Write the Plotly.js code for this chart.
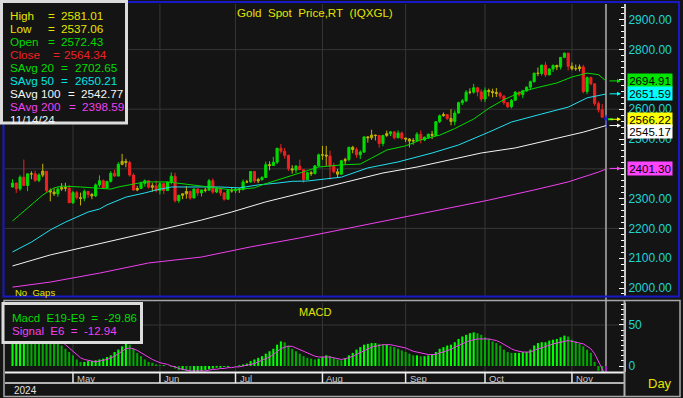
<!DOCTYPE html>
<html><head><meta charset="utf-8">
<script src="https://cdn.plot.ly/plotly-3.0.1.min.js"></script>
<style>html,body{margin:0;padding:0;background:#141414;overflow:hidden}#chart{width:683px;height:398px}</style>
</head><body><div id="chart"></div>
<script>
// ---------------- data (daily bars, Apr 9 2024 .. Nov 14 2024) ----------------
const open=[2339,2352,2333,2372,2344,2383,2383,2361,2379,2392,2327,2322,2316,2332,2337,2335,2286,2320,2303,2301,2324,2314,2309,2346,2360,2336,2358,2385,2376,2415,2425,2421,2379,2329,2334,2351,2360,2338,2343,2327,2350,2327,2355,2375,2293,2311,2316,2324,2302,2332,2319,2329,2328,2360,2322,2334,2319,2298,2327,2326,2332,2330,2356,2356,2391,2359,2364,2371,2414,2411,2422,2469,2459,2445,2400,2396,2409,2397,2364,2387,2384,2410,2447,2446,2443,2409,2390,2382,2427,2431,2472,2465,2447,2456,2507,2504,2513,2512,2485,2512,2518,2524,2504,2520,2503,2500,2493,2495,2516,2497,2506,2516,2512,2558,2578,2582,2569,2559,2587,2622,2628,2657,2657,2672,2658,2634,2663,2659,2656,2653,2644,2622,2608,2630,2657,2649,2662,2674,2692,2721,2720,2748,2715,2735,2747,2742,2774,2788,2744,2736,2736,2742,2659,2706,2685,2619,2598,2572.43];
const high=[2365,2354,2378,2431,2384,2392,2394,2385,2417,2392,2334,2335,2338,2352,2353,2346,2326,2326,2320,2331,2326,2319,2351,2378,2364,2359,2392,2397,2422,2450,2434,2427,2385,2343,2357,2364,2361,2352,2360,2355,2354,2357,2388,2387,2313,2317,2342,2326,2335,2335,2330,2336,2366,2368,2338,2338,2322,2332,2339,2337,2336,2364,2363,2392,2393,2370,2375,2424,2425,2440,2470,2483,2470,2448,2412,2412,2431,2399,2390,2393,2412,2451,2477,2477,2461,2420,2400,2430,2437,2474,2477,2472,2462,2509,2510,2531,2514,2512,2514,2528,2527,2526,2529,2525,2504,2503,2503,2523,2529,2508,2518,2527,2560,2582,2589,2583,2600,2596,2625,2634,2664,2670,2685,2675,2667,2673,2669,2669,2671,2659,2647,2624,2634,2661,2660,2665,2676,2696,2722,2740,2748,2759,2737,2750,2749,2774,2790,2789,2757,2750,2750,2749,2710,2709,2686,2626,2618,2581.01];
const low=[2337,2319,2326,2342,2325,2365,2356,2355,2372,2319,2291,2309,2306,2326,2324,2285,2282,2297,2277,2291,2303,2298,2305,2339,2333,2334,2354,2373,2374,2412,2405,2374,2326,2325,2334,2340,2334,2323,2321,2314,2315,2327,2348,2287,2286,2298,2300,2296,2302,2309,2307,2321,2328,2316,2318,2309,2293,2297,2320,2318,2319,2328,2352,2353,2353,2352,2360,2369,2395,2410,2416,2451,2434,2393,2384,2385,2396,2353,2364,2376,2381,2407,2430,2410,2364,2385,2369,2381,2415,2425,2452,2437,2433,2454,2488,2497,2495,2471,2476,2507,2510,2499,2503,2497,2490,2472,2481,2491,2485,2493,2500,2500,2510,2554,2575,2564,2546,2546,2585,2614,2624,2650,2652,2643,2625,2624,2643,2640,2641,2635,2615,2604,2603,2628,2643,2637,2658,2666,2690,2711,2713,2708,2714,2725,2731,2733,2771,2730,2730,2729,2727,2653,2651,2680,2611,2589,2572,2537.06];
const close=[2352,2333,2372,2344,2383,2383,2361,2379,2392,2327,2322,2316,2332,2337,2335,2286,2320,2303,2301,2324,2314,2309,2346,2360,2336,2358,2385,2376,2415,2425,2421,2379,2329,2334,2351,2360,2338,2343,2327,2350,2327,2355,2375,2293,2311,2316,2324,2302,2332,2319,2329,2328,2360,2322,2334,2319,2298,2327,2326,2332,2330,2356,2356,2391,2359,2364,2371,2414,2411,2422,2469,2459,2445,2400,2396,2409,2397,2364,2387,2384,2410,2447,2446,2443,2409,2390,2382,2427,2431,2472,2465,2447,2456,2507,2504,2513,2512,2485,2512,2518,2524,2504,2520,2503,2500,2493,2495,2516,2497,2506,2516,2512,2558,2578,2582,2569,2559,2587,2622,2628,2657,2657,2672,2658,2634,2663,2659,2656,2653,2644,2622,2608,2630,2657,2649,2662,2674,2692,2721,2720,2748,2715,2735,2747,2742,2774,2788,2744,2736,2736,2742,2659,2706,2685,2619,2598,2573,2564.34];

const months=['May','Jun','Jul','Aug','Sep','Oct','Nov'];
const monthIdx=[16,39,59,82,104,125,148];
const yearLabel='2024';

// moving averages (bar index, value)
const sma20Idx=[0,5,8,11,13,18,22,26,28,32,35,41,44,47,52,58,64,66,70,73,76,81,87,92,95,99,104,108,113,117,122,126,130,135,139,144,148,152,155,157];
const sma20=[2225,2279,2312,2336,2342,2339,2336,2332,2339,2349,2356,2356,2352,2346,2339,2329,2336,2346,2362,2372,2386,2406,2413,2416,2436,2463,2477,2497,2513,2535,2567,2603,2632,2660,2673,2688,2708,2721,2716,2695];
const sma50Idx=[0,5,10,14,20,23,25,30,35,38,42,50,55,60,65,70,74,78,87,94,102,111,118,126,132,140,147,152,157];
const sma50=[2121,2154,2195,2221,2255,2265,2279,2305,2319,2329,2339,2339,2339,2336,2346,2352,2358,2359,2372,2403,2423,2453,2480,2523,2557,2584,2607,2638,2651];
const sma100Idx=[0,10,19,28,39,50,58,67,76,89,98,107,116,124,133,142,151,157];
const sma100=[2074,2111,2137,2162,2195,2228,2255,2289,2317,2356,2386,2406,2430,2453,2470,2497,2523,2545];
const sma200Idx=[0,10,23,36,50,63,76,126,138,147,155,157];
const sma200=[2003,2020,2050,2084,2104,2138,2168,2295,2329,2356,2389,2399];

const macd=[45,46,47,49,48,47,45,44,43,39,35,32,29,25,21,17,13,8,5,5,6,6,7,8,9,11,13,17,20,24,28,26,21,16,12,8,5,4,2,1,1,0,-1,-3,-5,-5,-6,-7,-7,-7,-6,-5,-4,-3,-2,-2,-1,-1,0,0,1,2,3,6,8,10,12,15,18,21,26,30,29,25,21,18,15,12,10,9,8,9,11,13,12,10,8,7,9,13,16,20,23,26,27,28,28,27,26,26,24,23,21,19,17,15,13,13,12,12,13,14,17,21,23,25,26,29,33,36,38,40,41,40,38,35,33,30,28,25,20,17,16,16,16,17,17,20,25,28,29,29,31,32,33,35,37,36,32,30,27,24,20,16,5,-6,-18,-29.86];
const signal=[44,45,45,46,46,46,46,45,44,42,40,37,34,30,26,22,18,14,10,8,7,6,5,6,7,8,10,12,15,18,21,22,21,19,16,13,10,8,6,4,3,2,0,-1,-3,-4,-5,-6,-6,-6,-6,-6,-5,-4,-4,-3,-3,-2,-2,-1,-1,0,1,2,3,5,7,9,11,14,18,21,23,24,24,22,20,18,16,14,12,11,11,11,11,10,9,8,9,10,12,14,16,19,21,23,24,25,26,26,26,25,24,23,22,20,18,17,16,15,14,14,14,16,17,19,20,23,25,27,29,31,32,33,33,33,33,32,31,29,26,23,21,19,18,17,17,17,19,21,22,24,25,27,28,29,30,31,30,29,28,27,24,21,15,5,-6,-12.94];

const priceTicks=[2000,2100,2200,2300,2400,2500,2600,2700,2800,2900];
const priceTicksHidden=[2400,2700]; // covered by the value boxes in the original
const priceGrid=[2200,2400,2600,2800];
const macdTicks=[0,50];
const legendLabels=['High','Low','Open','Close','SAvg\u00a020','SAvg\u00a050','SAvg\u00a0100','SAvg\u00a0200'];
const legendValues=[2581.01,2537.06,2572.43,2564.34,2702.65,2650.21,2542.77,2398.59];
const legendDate='11/14/24';
const lastLabels=[2694.91,2651.59,2566.22,2545.17,2401.30];

// ---------------- styling ----------------
const W=683,H=398,PL=5,PR=624;
const px=x=>(x-PL)/(PR-PL);
const py=y=>1-y/H;
const C={bg:'#141414',grid:'#363636',yellow:'#e4e400',green:'#00dc00',red:'#ee2222',cyan:'#00e4e4',white:'#f4f4f4',mag:'#f040f0',olive:'#9a8a00',oliveLine:'#c4b400',axisTxt:'#1ed4d4'};
const FONT='Liberation Sans, Arial, sans-serif';

const n=close.length;
const idx=close.map((_,i)=>i);
const cls=idx.map(i=> i===n-1?'last':(Math.abs(close[i]-open[i])<0.3*(high[i]-low[i])?'mixed':(close[i]>=open[i]?'up':'down')));
function candle(kind,fill,line){
  const ii=idx.filter(i=>cls[i]===kind);
  return {type:'candlestick',xaxis:'x',yaxis:'y',x:ii,open:ii.map(i=>open[i]),high:ii.map(i=>high[i]),low:ii.map(i=>low[i]),close:ii.map(i=>close[i]),
    increasing:{line:{color:line,width:1},fillcolor:fill},decreasing:{line:{color:line,width:1},fillcolor:fill},whiskerwidth:0,hoverinfo:'skip',showlegend:false};
}
function maLine(xs,ys,color){return {type:'scatter',mode:'lines',x:xs,y:ys,xaxis:'x',yaxis:'y',line:{color:color,width:1},hoverinfo:'skip',showlegend:false};}

const barColors=macd.map((v,i)=> i===n-1?'#a020c0':(i>0&&v<macd[i-1]?'#00a800':'#00ff00'));

const traces=[
  maLine(sma200Idx,sma200,C.mag),
  maLine(sma100Idx,sma100,C.white),
  maLine(sma50Idx,sma50,'#20e0f0'),
  maLine(sma20Idx,sma20,C.green),
  candle('up',C.green,C.green),
  candle('down',C.red,C.red),
  candle('mixed',C.olive,C.oliveLine),
  candle('last','#3a3aa0','#2020e0'),
  {type:'bar',x:idx,y:macd,xaxis:'x',yaxis:'y2',marker:{color:barColors,line:{width:0}},hoverinfo:'skip',showlegend:false},
  {type:'scatter',mode:'lines',x:idx,y:signal,xaxis:'x',yaxis:'y2',line:{color:C.mag,width:1},hoverinfo:'skip',showlegend:false}
];

const shapes=[];
priceGrid.forEach(v=>shapes.push({type:'line',xref:'paper',yref:'y',x0:0,x1:1,y0:v,y1:v,line:{color:C.grid,width:1},layer:'below'}));
shapes.push({type:'line',xref:'paper',yref:'y2',x0:0,x1:1,y0:50,y1:50,line:{color:C.grid,width:1},layer:'below'});
monthIdx.forEach(m=>{
  shapes.push({type:'line',xref:'x',yref:'paper',x0:m,x1:m,y0:py(296),y1:py(4),line:{color:C.grid,width:1},layer:'below'});
  shapes.push({type:'line',xref:'x',yref:'paper',x0:m,x1:m,y0:py(372),y1:py(303),line:{color:C.grid,width:1},layer:'below'});
  shapes.push({type:'line',xref:'x',yref:'paper',x0:m,x1:m,y0:py(383),y1:py(372),line:{color:'#e8e8e8',width:1.5}});
});
shapes.push({type:'line',xref:'paper',yref:'paper',x0:0,x1:1,y0:py(372.5),y1:py(372.5),line:{color:'#f0f0f0',width:2}});
shapes.push({type:'line',xref:'paper',yref:'paper',x0:0,x1:1,y0:py(383),y1:py(383),line:{color:'#e8e8e8',width:1.5}});
shapes.push({type:'line',xref:'x',yref:'paper',x0:n-1,x1:n-1,y0:py(372),y1:py(4),line:{color:'#8a8a8a',width:2},layer:'below'});
shapes.push({type:'line',xref:'paper',yref:'paper',x0:px(624.5),x1:px(624.5),y0:py(396),y1:py(300),line:{color:'#b0b0b0',width:2}});
shapes.push({type:'rect',xref:'paper',yref:'paper',x0:px(3.5),x1:px(679),y0:py(296.5),y1:py(2),line:{color:'#1818c8',width:2}});
shapes.push({type:'rect',xref:'paper',yref:'paper',x0:px(4),x1:px(680),y0:py(396.5),y1:py(300.5),line:{color:'#a8a8a8',width:1.5}});
shapes.push({type:'rect',xref:'paper',yref:'paper',x0:px(1.5),x1:px(126.5),y0:py(123),y1:py(1.5),fillcolor:C.bg,line:{color:'#dcdcdc',width:3}});
shapes.push({type:'rect',xref:'paper',yref:'paper',x0:px(3),x1:px(141.5),y0:py(342.5),y1:py(303.5),fillcolor:C.bg,line:{color:'#dcdcdc',width:3}});
shapes.push({type:'line',xref:'paper',yref:'y',x0:px(608),x1:px(613),y0:lastLabels[2],y1:lastLabels[2],line:{color:C.green,width:2}});

const ann=[];
function txt(t,x,y,color,size,extra){ann.push(Object.assign({text:t,xref:'paper',yref:'paper',x:px(x),y:py(y),xanchor:'left',yanchor:'middle',showarrow:false,font:{family:FONT,size:size,color:color},borderpad:0},extra||{}));}
txt('Gold\u00a0\u00a0Spot\u00a0\u00a0Price,RT\u00a0\u00a0(IQXGL)',314.5,12,C.yellow,11.6,{xanchor:'center'});
const legColors=[C.yellow,C.yellow,C.green,C.red,C.green,C.cyan,C.white,C.mag];
const eqX=[47,47,47,52,60,60,67,68];
const valX=[60,60,60,63,74,74,80,81];
legendLabels.forEach((l,i)=>{
  const y=16+i*12.95;
  txt(l,8.5,y,legColors[i],11.7);
  txt('=',eqX[i],y,legColors[i],11.7);
  txt(legendValues[i].toFixed(2),valX[i],y,legColors[i],11.7);
});
txt(legendDate,8.5,16+8*12.95,C.white,11.7);
txt('No\u00a0\u00a0Gaps',13.5,292,C.yellow,9.5);
txt('MACD',298,311.5,C.yellow,11);
txt('Macd\u00a0\u00a0E19-E9\u00a0\u00a0=\u00a0\u00a0'+macd[n-1].toFixed(2),10.5,317.5,C.green,11.5);
txt('Signal\u00a0\u00a0E6\u00a0\u00a0=\u00a0\u00a0'+signal[n-1].toFixed(2),10.5,331,C.mag,11.5);
months.forEach((m,i)=>ann.push({text:m,xref:'x',yref:'paper',x:monthIdx[i],y:py(378.5),xanchor:'left',yanchor:'middle',xshift:2,showarrow:false,font:{family:FONT,size:9.5,color:'#c8c8c8'}}));
txt(yearLabel,13,390,'#e0e0e0',10);
txt('Day',647,383,C.yellow,13);
const lblColors=['#00e400','#00ffff','#ffff00','#ffffff','#ff44ff'];
const lblShift=[0,0,0,-5.5,0];
lastLabels.forEach((v,i)=>{
  ann.push({text:v.toFixed(2),xref:'paper',yref:'y',x:px(626.5),y:v,xanchor:'left',yanchor:'middle',yshift:lblShift[i],showarrow:false,bgcolor:lblColors[i],width:44,height:13,align:'center',borderpad:0,font:{family:FONT,size:11.5,color:'#000000'}});
});
lastLabels.forEach((v,i)=>{
  ann.push({text:'',xref:'paper',yref:'y',x:px(621),y:v,ax:-13,ay:0,showarrow:true,arrowhead:2,arrowsize:0.8,arrowwidth:1,arrowcolor:lblColors[i]});
});

const layout={
  width:W,height:H,margin:{l:PL,r:W-PR,t:0,b:0},
  paper_bgcolor:C.bg,plot_bgcolor:C.bg,showlegend:false,bargap:0.45,boxgap:0.2,
  font:{family:FONT,color:C.white},
  xaxis:{domain:[0,1],range:[-1.984,161.77],anchor:'y',showgrid:false,zeroline:false,showticklabels:false,ticks:'',showline:false,rangeslider:{visible:false},fixedrange:true},
  yaxis:{domain:[py(296),py(4)],range:[1973.2,2953],side:'right',anchor:'x',tickmode:'array',tickvals:priceTicks,
    ticktext:priceTicks.map(v=>priceTicksHidden.includes(v)?'':v.toFixed(2)),
    tickfont:{family:FONT,size:12,color:C.axisTxt},ticks:'inside',ticklen:5,tickwidth:1,tickcolor:'#ffffff',showline:true,linecolor:'#c8c8c8',linewidth:2,showgrid:false,zeroline:false,
    minor:{tickmode:'linear',tick0:2000,dtick:20,ticks:'inside',ticklen:3,tickcolor:'#ffffff',showgrid:false}},
  yaxis3:{overlaying:'y',side:'left',anchor:'x',range:[1973.2,2953],tickmode:'linear',tick0:2000,dtick:100/3,ticks:'inside',ticklen:3,tickcolor:'#ffffff',showticklabels:false,showgrid:false,zeroline:false,showline:false},
  yaxis2:{domain:[py(372),py(303)],range:[-7.3,76.8],side:'right',anchor:'x',tickmode:'array',tickvals:macdTicks,ticktext:macdTicks.map(String),
    tickfont:{family:FONT,size:12,color:C.axisTxt},ticks:'inside',ticklen:5,tickcolor:'#ffffff',showline:true,linecolor:'#c8c8c8',linewidth:2,showgrid:false,zeroline:false,
    minor:{tickmode:'linear',tick0:0,dtick:6.25,ticks:'inside',ticklen:3,tickcolor:'#ffffff',showgrid:false}},
  yaxis4:{overlaying:'y2',side:'left',anchor:'x',range:[-7.3,76.8],tickmode:'linear',tick0:0,dtick:8.33,ticks:'inside',ticklen:3,tickcolor:'#ffffff',showticklabels:false,showgrid:false,zeroline:false,showline:false},
  shapes:shapes,annotations:ann
};
Plotly.newPlot('chart',traces,layout,{staticPlot:true,displayModeBar:false});
</script></body></html>
